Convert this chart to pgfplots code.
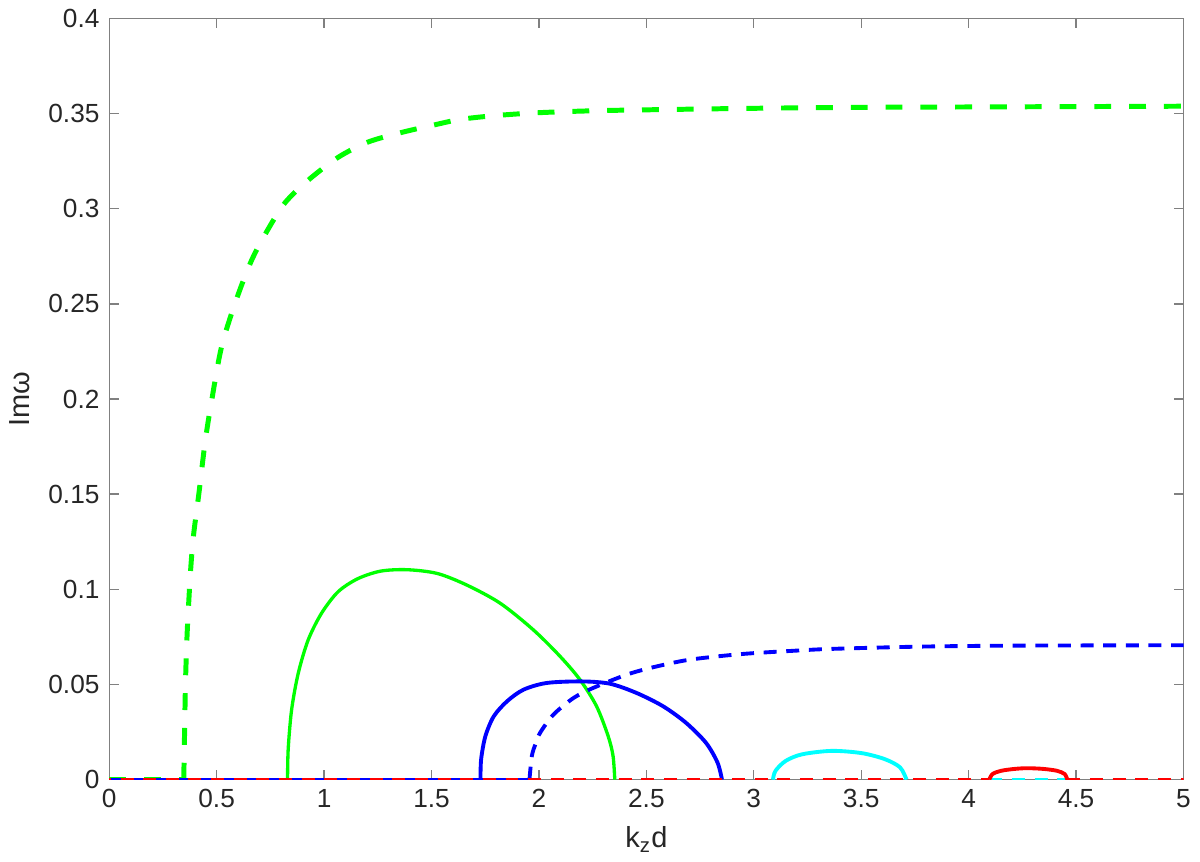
\documentclass[border=0pt]{standalone}
\usepackage{fontspec}
\setmainfont{Liberation Sans}
\usepackage{pgfplots}
\pgfplotsset{compat=1.18}
\definecolor{txt}{HTML}{262626}
\definecolor{axgray}{HTML}{808080}
\definecolor{mgreen}{HTML}{00FF00}
\definecolor{mblue}{HTML}{0000FF}
\definecolor{mcyan}{HTML}{00FFFF}
\definecolor{mred}{HTML}{FF0000}
\begin{document}
\begin{tikzpicture}
\begin{axis}[
  scale only axis,
  width=389pt, height=275.6pt,
  xmin=0, xmax=5, ymin=0, ymax=0.4,
  xtick={0,0.5,...,5},
  ytick={0,0.05,...,0.4},
  tick align=inside,
  major tick length=3.6pt,
  axis line style={axgray, line width=0.5pt},
  every tick/.style={axgray, line width=0.5pt},
  tick label style={font=\fontsize{9.5}{11}\selectfont, text=txt},
  label style={font=\fontsize{10.5}{12}\selectfont, text=txt},
  /pgf/number format/assume math mode=true,
  yticklabel style={/pgf/number format/fixed, /pgf/number format/precision=2},
  xticklabel style={/pgf/number format/fixed, /pgf/number format/precision=1},
  xlabel={k\textsubscript{z}d},
  ylabel={Imω},
  clip=true,
]
% fundamental, dashed branch
\addplot[mgreen, line width=1.8pt, dash pattern=on 6.1pt off 6.5pt] coordinates {
 (0,0) (0.347,0)
};
\addplot[mgreen, line width=1.8pt, dash pattern=on 6.1pt off 6.5pt, smooth, tension=0.5] coordinates {
 (0.347,0) (0.350,0.02) (0.355,0.051) (0.362,0.075)
 (0.370,0.093) (0.380,0.112) (0.393,0.129) (0.417,0.150) (0.447,0.178)
 (0.478,0.200) (0.524,0.228) (0.594,0.253) (0.663,0.273) (0.733,0.288)
 (0.817,0.303) (0.926,0.315) (1.065,0.327) (1.203,0.335) (1.357,0.340)
 (1.51,0.344) (1.636,0.347) (1.8,0.349) (2.0,0.3505) (2.25,0.3515)
 (2.5,0.352) (3.0,0.3528) (3.5,0.3533) (4.0,0.3535) (4.5,0.3537) (5,0.3539)
};
% fundamental, solid branch
\addplot[mgreen, line width=1.2pt, smooth, tension=0.5] coordinates {
 (0.830,0) (0.833,0.016) (0.849,0.0368) (0.880,0.056) (0.926,0.0734)
 (0.988,0.0874) (1.065,0.0987) (1.157,0.1056) (1.265,0.1096) (1.389,0.1103)
 (1.528,0.1083) (1.667,0.1021) (1.821,0.0926) (1.975,0.0786) (2.099,0.0647)
 (2.191,0.0525) (2.268,0.0386) (2.322,0.0229) (2.345,0.0124) (2.353,0)
};
% second mode
\addplot[mblue, line width=1.4pt, smooth, tension=0.5] coordinates {
 (1.728,0) (1.731,0.0107) (1.751,0.0229) (1.790,0.0333) (1.852,0.0412)
 (1.929,0.0473) (2.037,0.0508) (2.199,0.0516) (2.330,0.0504) (2.453,0.0456)
 (2.577,0.0386) (2.684,0.0299) (2.777,0.0194) (2.831,0.009) (2.852,0)
};
\addplot[mblue, line width=1.4pt, dash pattern=on 4.7pt off 3.5pt] coordinates {
 (0,0) (1.956,0)
};
\addplot[mblue, line width=1.4pt, dash pattern=on 4.7pt off 3.5pt, smooth, tension=0.5] coordinates {
 (1.956,0) (1.967,0.0124) (1.985,0.019) (2.006,0.0247) (2.068,0.0342)
 (2.161,0.0429) (2.253,0.0482) (2.407,0.0551) (2.53,0.0590) (2.70,0.0630)
 (2.945,0.0660) (3.2,0.0678) (3.362,0.0687) (3.779,0.0699) (4.212,0.0704)
 (4.906,0.0706) (5,0.0706)
};
% third mode
\addplot[mcyan, line width=1.4pt, smooth, tension=0.5] coordinates {
 (3.089,0) (3.101,0.0046) (3.148,0.0098) (3.225,0.0133) (3.363,0.0151)
 (3.503,0.0139) (3.611,0.0107) (3.681,0.0064) (3.711,0)
};
\addplot[mcyan, line width=1.4pt, dash pattern=on 4.7pt off 3.5pt] coordinates {
 (4.096,0) (4.459,0)
};
% fourth mode
\addplot[mred, line width=1.4pt, smooth, tension=0.5] coordinates {
 (4.096,0) (4.111,0.0029) (4.150,0.0046) (4.212,0.0056) (4.273,0.006)
 (4.350,0.0056) (4.412,0.0046) (4.447,0.0029) (4.459,0)
};
\addplot[mred, line width=1.4pt, dash pattern=on 4.7pt off 3.5pt, dash phase=4.1pt] coordinates {
 (0,0) (4.096,0)
};
\addplot[mred, line width=1.4pt, dash pattern=on 4.7pt off 3.5pt] coordinates {
 (4.459,0) (5,0)
};
\path (rel axis cs:0,0) ++(-38.4pt,-35.8pt) (rel axis cs:1,1) ++(4.7pt,5.4pt);
\end{axis}
\end{tikzpicture}
\end{document}
